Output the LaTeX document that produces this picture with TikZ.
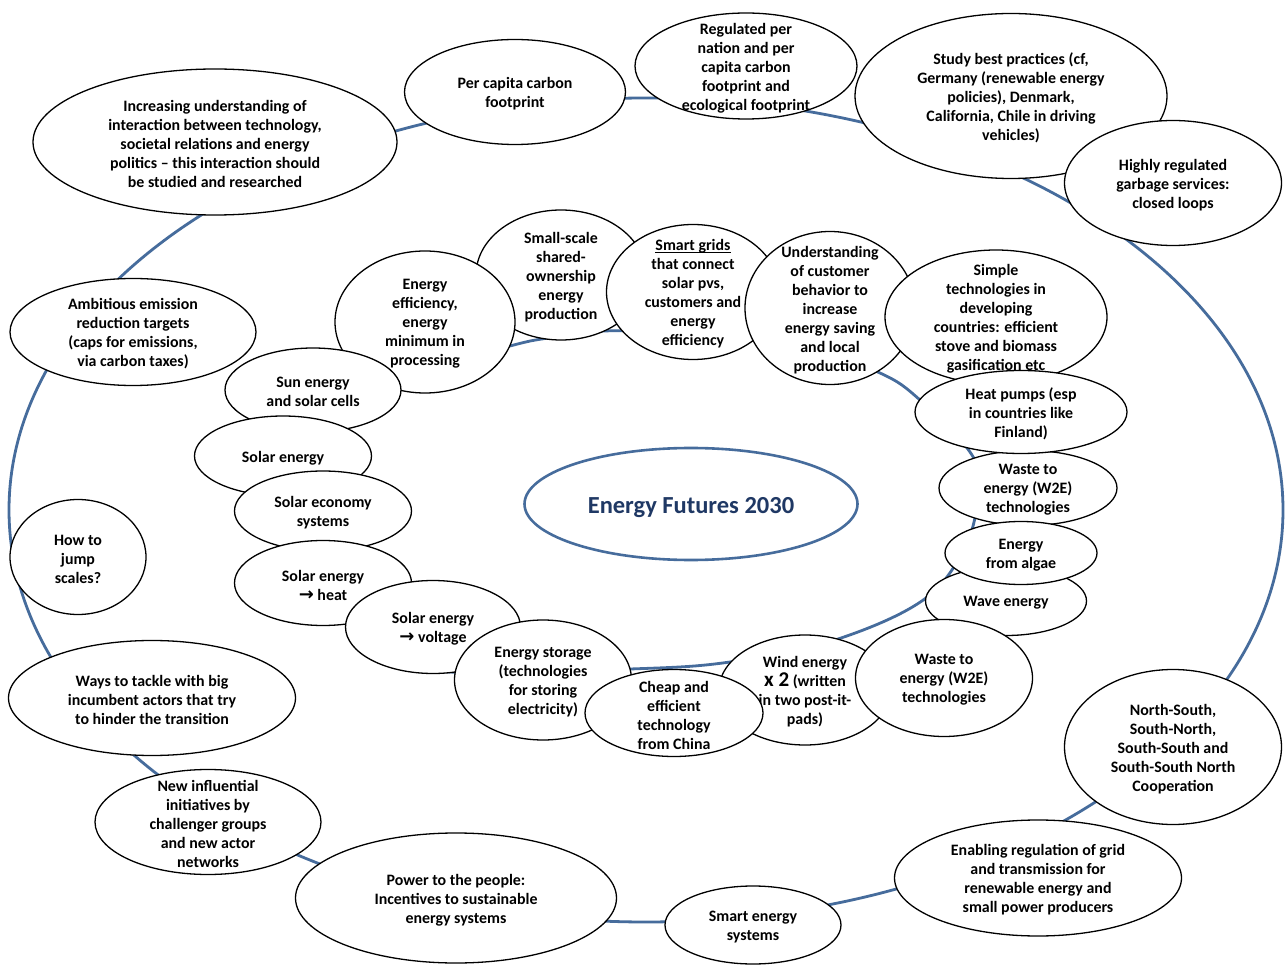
\documentclass[tikz,border=0pt]{standalone}
\usepackage{fontspec}
\setmainfont{Carlito}
\newfontfamily\arrowfont{DejaVu Sans}
\usetikzlibrary{shapes.geometric}

\definecolor{ringblue}{RGB}{70,108,156}
\definecolor{titleblue}{RGB}{31,56,100}

% one bubble of the mind map: ellipse outline, then its centred text
\newcommand\bubble[6]{%
  \node[bub, minimum width=#4pt, minimum height=#5pt] (#1) at (#2,#3) {};
  \node[lbl] (#1-t) at (#1.center) {#6};
}
% arrow glyph used in the solar bubbles
\newcommand\toarrow{{\arrowfont\fontsize{18}{19}\selectfont →}}
% heavier underline
\newcommand\thickul[1]{\setbox0\hbox{#1}\rlap{\rule[-2.6pt]{\wd0}{1.2pt}}\box0}

\begin{document}
\begin{tikzpicture}[x=1pt,y=-1pt,
  bub/.style={ellipse, draw=black, line width=1.3pt, fill=white, inner sep=0pt},
  lbl/.style={font=\fontsize{15.9}{19}\selectfont\bfseries, align=center, inner sep=0pt,
    text=black, yshift=-2pt},
  ring/.style={draw=ringblue, line width=2.8pt},
  title/.style={ellipse, draw=ringblue, line width=2.6pt, fill=white, inner sep=0pt,
    minimum width=333pt, minimum height=112pt},
  titletext/.style={text=titleblue, inner sep=0pt, yshift=-4pt,
    font=\fontsize{24.5}{28}\selectfont\bfseries}]

\useasboundingbox (0,0) rectangle (1286,965);
\fill[white] (0,0) rectangle (1286,965);

% outer ring
\draw[ring] (646,510) ellipse [x radius=637pt, y radius=412pt];

% inner ring
\draw[ring] plot[smooth cycle, tension=0.6] coordinates {
  (390,655) (450,672) (630,669) (730,662) (835,640) (926,598) (968,540)
  (978,485) (970,452) (920,400) (880,373) (800,345) (700,333) (603,331)
  (548,338) (510,346) (420,372) (340,430) (315,510) (335,590)};

% outer ring topics
\bubble{inc}{215}{142}{364}{146}{Increasing understanding of\\interaction between technology,\\societal relations and energy\\politics – this interaction should\\be studied and researched}
\bubble{pcf}{515}{92}{221}{105}{Per capita carbon\\footprint}
\bubble{reg}{746}{66}{222}{106}{Regulated per\\nation and per\\capita carbon\\footprint and\\ecological footprint}
\bubble{best}{1011}{96}{312}{165}{Study best practices (cf,\\Germany (renewable energy\\policies), Denmark,\\California, Chile in driving\\vehicles)}
\bubble{garb}{1173}{183}{217}{125}{Highly regulated\\garbage services:\\closed loops}
\bubble{nsc}{1173}{747}{217}{155}{North-South,\\South-North,\\South-South and\\South-South North\\Cooperation}
\bubble{grid}{1038}{878}{287}{116}{Enabling regulation of grid\\and transmission for\\renewable energy and\\small power producers}
\bubble{ses}{753}{925}{176}{78}{Smart energy\\systems}
\bubble{ptp}{456}{898}{321}{130}{Power to the people:\\Incentives to sustainable\\energy systems}
\bubble{nii}{208}{822}{226}{105}{New influential\\initiatives by\\challenger groups\\and new actor\\networks}
\bubble{ways}{152}{698}{287}{115}{Ways to tackle with big\\incumbent actors that try\\to hinder the transition}
\bubble{jump}{78}{557}{136}{115}{How to\\jump\\scales?}
\bubble{amb}{133}{332}{246}{107}{Ambitious emission\\reduction targets\\(caps for emissions,\\via carbon taxes)}

% inner ring topics
\bubble{ssp}{561}{275}{170}{130}{Small-scale\\shared-\\ownership\\energy\\production}
\bubble{sg}{693}{292}{173}{135}{\thickul{Smart grids}\\that connect\\solar pvs,\\customers and\\energy\\efficiency}
\bubble{ucb}{830}{308}{170}{153}{Understanding\\of customer\\behavior to\\increase\\energy saving\\and local\\production}
\bubble{simple}{996}{317}{222}{134}{Simple\\technologies in\\developing\\countries: efficient\\stove and biomass\\gasification etc}
\bubble{wtea}{1028}{488}{178}{75}{Waste to\\energy (W2E)\\technologies}
\bubble{heat}{1021}{412}{212}{83}{Heat pumps (esp\\in countries like\\Finland)}
\bubble{wave}{1006}{601}{161}{69}{Wave energy}
\bubble{algae}{1021}{553}{152}{63}{Energy\\from algae}
\bubble{eff}{425}{322}{180}{142}{Energy\\efficiency,\\energy\\minimum in\\processing}
\bubble{sun}{313}{390}{176}{84}{Sun energy\\and solar cells}
\bubble{solar}{283}{456}{177}{80}{Solar energy}
\bubble{econ}{323}{511}{177}{80}{Solar economy\\systems}
\bubble{sheat}{323}{583}{177}{85}{Solar energy\\\toarrow{} heat}
\bubble{svolt}{433}{627}{175}{93}{Solar energy\\\toarrow{} voltage}
\bubble{stor}{543}{680}{177}{120}{Energy storage\\(technologies\\for storing\\electricity)}
\bubble{wind}{805}{690}{172}{110}{Wind energy\\{\fontsize{21}{19}\selectfont x 2} (written\\in two post-it-\\pads)}
\bubble{cheap}{674}{713}{178}{87}{Cheap and\\efficient\\technology\\from China}
\bubble{wteb}{944}{678}{177}{117}{Waste to\\energy (W2E)\\technologies}

% centre
\node[title] (centre) at (691,504) {};
\node[titletext] (centre-t) at (centre.center) {Energy Futures 2030};

\end{tikzpicture}
\end{document}
